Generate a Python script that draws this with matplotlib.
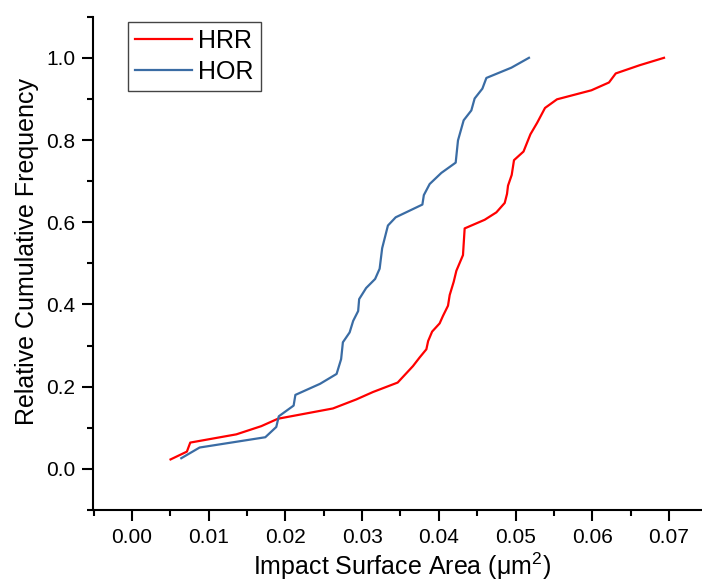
import matplotlib
matplotlib.use("Agg")
import matplotlib.pyplot as plt
from matplotlib.ticker import MultipleLocator, FormatStrFormatter

plt.rcParams['font.family'] = ['Liberation Sans', 'DejaVu Sans']
plt.rcParams['mathtext.fontset'] = 'custom'
plt.rcParams['mathtext.rm'] = 'Liberation Sans'

hrr_x = [0.00504, 0.00717, 0.00761, 0.01361, 0.01687, 0.01903, 0.0262, 0.02925, 0.03142,
         0.03464, 0.03663, 0.0375, 0.03838, 0.03861, 0.03913, 0.04011, 0.04054, 0.0412,
         0.04142, 0.04194, 0.04229, 0.04315, 0.04337, 0.04598, 0.0475, 0.04859, 0.04889,
         0.04902, 0.0495, 0.0498, 0.05104, 0.05194, 0.05282, 0.05384, 0.0554, 0.05989,
         0.06218, 0.06306, 0.06618, 0.06935]
hrr_y = [0.023, 0.042, 0.064, 0.084, 0.104, 0.122, 0.147, 0.169, 0.187,
         0.21, 0.25, 0.271, 0.291, 0.311, 0.334, 0.354, 0.372, 0.397,
         0.423, 0.455, 0.482, 0.52, 0.585, 0.606, 0.624, 0.647, 0.669,
         0.689, 0.715, 0.751, 0.772, 0.814, 0.842, 0.878, 0.899, 0.921,
         0.94, 0.962, 0.982, 1.0]

hor_x = [0.00644, 0.00883, 0.01739, 0.01882, 0.01915, 0.02108, 0.02131, 0.02453, 0.02668,
         0.02727, 0.0275, 0.02838, 0.02884, 0.02949, 0.02962, 0.03053, 0.0317, 0.03229,
         0.03262, 0.03337, 0.03438, 0.03786, 0.03805, 0.03881, 0.04033, 0.0422, 0.0425,
         0.04324, 0.04424, 0.04467, 0.04568, 0.0462, 0.04946, 0.05175]
hor_y = [0.026, 0.052, 0.077, 0.102, 0.128, 0.154, 0.18, 0.207, 0.231,
         0.267, 0.308, 0.332, 0.36, 0.384, 0.413, 0.44, 0.462, 0.487,
         0.537, 0.592, 0.612, 0.643, 0.666, 0.693, 0.72, 0.745, 0.799,
         0.848, 0.872, 0.901, 0.925, 0.951, 0.976, 1.0]

fig = plt.figure(figsize=(7.02, 5.81), dpi=100)
ax = fig.add_axes([93.5/702, (581-510)/581, (702-93.5)/702, (510-16.7)/581])

ax.plot(hrr_x, hrr_y, color='#FF0000', lw=1.6, label='HRR')
ax.plot(hor_x, hor_y, color='#3A6CA4', lw=1.6, label='HOR')

ax.set_xlim(-0.005, 0.0743)
ax.set_ylim(-0.1, 1.1)
ax.xaxis.set_major_locator(MultipleLocator(0.01))
ax.xaxis.set_minor_locator(MultipleLocator(0.005))
ax.yaxis.set_major_locator(MultipleLocator(0.2))
ax.yaxis.set_minor_locator(MultipleLocator(0.1))
ax.xaxis.set_major_formatter(FormatStrFormatter('%.2f'))
ax.yaxis.set_major_formatter(FormatStrFormatter('%.1f'))

for s in ['top', 'right']:
    ax.spines[s].set_visible(False)
for s in ['left', 'bottom']:
    ax.spines[s].set_linewidth(1.5)

ax.tick_params(which='major', direction='out', length=8, width=1.5, labelsize=15)
ax.tick_params(axis='x', which='major', pad=5)
ax.tick_params(axis='y', which='major', pad=5)
ax.tick_params(which='minor', direction='out', length=4, width=1.5)

ax.set_xlabel('Impact Surface Area ($\\mathrm{\\mu m^2}$)', fontsize=18)
ax.set_ylabel('Relative Cumulative Frequency', fontsize=18)
ax.xaxis.set_label_coords((402-93.5)/608.5, (510-551)/493.3)
ax.yaxis.set_label_coords((39-93.5)/608.5, (510-251.5)/493.3)

leg = ax.legend(loc='upper left', bbox_to_anchor=((127.7-93.5)/608.5, (510-21.7)/493.3),
                fontsize=18, frameon=True, fancybox=False, framealpha=1,
                edgecolor='#444444', handlelength=2.3, handletextpad=0.25,
                labelspacing=0.3, borderpad=0.28, borderaxespad=0)
leg.get_frame().set_linewidth(1.0)

fig.savefig('out.png', dpi=100)
